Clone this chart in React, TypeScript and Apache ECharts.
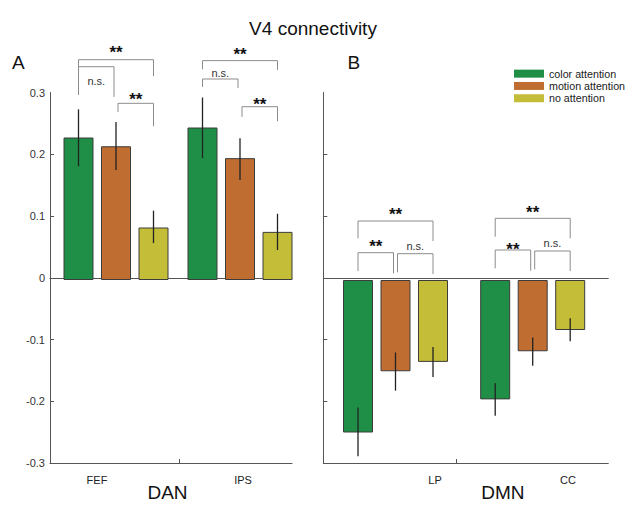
import React, { useEffect, useRef } from "react";
import * as echarts from "echarts";

const FONT = "'Liberation Sans', Arial, Helvetica, sans-serif";

const conditions = ["color attention", "motion attention", "no attention"];
const colors = ["#1f8f47", "#bf6d31", "#c4bd37"];

const danRegions = ["FEF", "IPS"];
const dmnRegions = ["LP", "CC"];
const networkNames = ["DAN", "DMN"];
const yTickValues = [-0.2, -0.1, 0, 0.1, 0.2];

// per condition, per region
const danMeans = [[0.228, 0.244], [0.214, 0.195], [0.084, 0.077]];
const danLow = [[0.182, 0.195], [0.176, 0.160], [0.059, 0.048]];
const danHigh = [[0.273, 0.292], [0.253, 0.227], [0.111, 0.106]];

const dmnMeans = [[-0.244, -0.191], [-0.146, -0.114], [-0.131, -0.080]];
const dmnLow = [[-0.282, -0.217], [-0.177, -0.137], [-0.155, -0.098]];
const dmnHigh = [[-0.204, -0.165], [-0.116, -0.092], [-0.107, -0.061]];

// [region, fromCond, toCond, bracketTop, leftLegEnd, rightLegEnd, label, labelY]
const danBrackets: any[] = [
  [0, 0, 2, 0.3525, 0.317, 0.326, "**", 0.3707],
  [0, 0, 1, 0.3413, 0.296, 0.293, "n.s.", 0.3173],
  [0, 1, 2, 0.2827, 0.269, 0.246, "**", 0.296],
  [1, 0, 2, 0.351, 0.337, 0.336, "**", 0.368],
  [1, 0, 1, 0.3216, 0.309, 0.307, "n.s.", 0.3296],
  [1, 1, 2, 0.2773, 0.261, 0.254, "**", 0.288],
];
const dmnBrackets: any[] = [
  [0, 0, 2, 0.0944, 0.0667, 0.0624, "**", 0.1109],
  [0, 0, 1, 0.0437, 0.0144, 0.0107, "**", 0.0603],
  [0, 1, 2, 0.0421, 0.0123, 0.0096, "n.s.", 0.0533],
  [1, 0, 2, 0.0987, 0.0693, 0.0667, "**", 0.1147],
  [1, 0, 1, 0.048, 0.0187, 0.0149, "**", 0.056],
  [1, 1, 2, 0.0464, 0.0171, 0.0144, "n.s.", 0.0581],
];

const BAR_STEP = 37.5;
const AXIS_COLOR = "#555";

function errorData(low: number[][], high: number[][]) {
  const out: number[][] = [];
  low.forEach((row, c) => row.forEach((lo, r) => out.push([r, c, lo, high[c][r]])));
  return out;
}

function bracketGraphics(chart: any, brackets: any[], gridIndex: number) {
  const els: any[] = [];
  brackets.forEach(([cat, from, to, top, endL, endR, label, labelY]) => {
    const f = { gridIndex };
    const c = chart.convertToPixel(f, [cat, top]);
    const pl = chart.convertToPixel(f, [cat, endL]);
    const pr = chart.convertToPixel(f, [cat, endR]);
    const pLab = chart.convertToPixel(f, [cat, labelY]);
    const x0 = c[0] + (from - 1) * BAR_STEP + (from === 1 ? 2 : 0);
    const x1 = c[0] + (to - 1) * BAR_STEP - (to === 1 ? 2 : 0);
    els.push({
      type: "polyline",
      silent: true,
      shape: { points: [[x0, pl[1]], [x0, c[1]], [x1, c[1]], [x1, pr[1]]] },
      style: { stroke: "#8c8c8c", lineWidth: 1, fill: null },
    });
    const star = label === "**";
    els.push({
      type: "text",
      silent: true,
      x: (x0 + x1) / 2,
      y: pLab[1] + (star ? 4 : -1),
      style: {
        text: label,
        fontSize: star ? 17 : 11,
        fontWeight: star ? "bold" : "normal",
        fill: star ? "#111" : "#333",
        align: "center",
        verticalAlign: "middle",
        fontFamily: FONT,
      },
    });
  });
  return els;
}

export default function App() {
  const ref = useRef<HTMLDivElement>(null);
  useEffect(() => {
    if (!ref.current) return;
    const chart = echarts.init(ref.current, undefined, { renderer: "svg" });

    const top = 92.5;
    const height = 375;
    const grids = [
      { left: 54, top, width: 248, height },
      { left: 326.9, top, width: 274.4, height },
      { left: 50, top, width: 242, height },
      { left: 323.3, top, width: 285, height },
    ];

    const hiddenY = (g: number) => ({
      type: "value", gridIndex: g, min: -0.3, max: 0.3, interval: 0.1, show: false,
    });
    const visibleY = (g: number, labels: boolean) => ({
      type: "value", gridIndex: g, min: -0.3, max: 0.3, interval: 0.1,
      axisLine: { show: true, onZero: false, lineStyle: { color: AXIS_COLOR, width: 1 } },
      axisTick: { show: true, inside: true, length: 4, customValues: yTickValues, lineStyle: { color: AXIS_COLOR } },
      axisLabel: { show: labels, fontSize: 11, color: "#333", margin: 5, fontFamily: FONT },
      splitLine: { show: false },
    });
    const catAxis = (g: number, names: string[], shifts: number[]) => ({
      type: "category", gridIndex: g, position: "bottom",
      data: names.map((n, i) => ({
        value: n,
        textStyle: { padding: shifts[i] >= 0 ? [0, 0, 0, shifts[i] * 2] : [0, -shifts[i] * 2, 0, 0] },
      })),
      axisLine: { show: false, onZero: false },
      axisTick: { show: false },
      axisLabel: { interval: 0, fontSize: 11, color: "#222", margin: 7, fontFamily: FONT },
    });
    const bottomAxis = (g: number, name: string, tick: number, nameShift: number) => ({
      type: "value", gridIndex: g, min: 0, max: 1, position: "bottom",
      name, nameLocation: "middle", nameGap: 20,
      nameTextStyle: {
        fontSize: 19, color: "#111", fontFamily: FONT,
        padding: nameShift >= 0 ? [0, 0, 0, nameShift * 2] : [0, -nameShift * 2, 0, 0],
      },
      axisLine: { show: true, onZero: false, lineStyle: { color: AXIS_COLOR, width: 1 } },
      axisTick: { show: true, inside: true, length: 4, customValues: [tick], lineStyle: { color: AXIS_COLOR } },
      axisLabel: { show: false },
      splitLine: { show: false },
    });
    const zeroAxis = (g: number) => ({
      type: "value", gridIndex: g, min: 0, max: 1, position: "top",
      axisLine: { show: true, onZero: true, lineStyle: { color: AXIS_COLOR, width: 1 } },
      axisTick: { show: false },
      axisLabel: { show: false },
      splitLine: { show: false },
    });

    const barSeries: any[] = [];
    [danMeans, dmnMeans].forEach((means, g) => {
      means.forEach((vals, c) => {
        barSeries.push({
          type: "bar",
          name: conditions[c],
          xAxisIndex: g,
          yAxisIndex: g,
          barWidth: 30,
          barGap: "25%",
          data: vals,
          itemStyle: { color: colors[c], borderColor: "#3c3c3c", borderWidth: 1 },
        });
      });
    });

    const errSeries = [
      { low: danLow, high: danHigh },
      { low: dmnLow, high: dmnHigh },
    ].map((e, g) => ({
      type: "custom",
      xAxisIndex: g,
      yAxisIndex: g,
      z: 5,
      encode: { x: 0, y: 2 },
      data: errorData(e.low, e.high),
      renderItem: (params: any, api: any) => {
        const cat = api.value(0);
        const cond = api.value(1);
        const lo = api.coord([cat, api.value(2)]);
        const hi = api.coord([cat, api.value(3)]);
        const dx = (cond - 1) * BAR_STEP;
        return {
          type: "line",
          shape: { x1: lo[0] + dx, y1: lo[1], x2: hi[0] + dx, y2: hi[1] },
          style: { stroke: "#222", lineWidth: 1.3 },
        };
      },
    }));

    chart.setOption({
      animation: false,
      backgroundColor: "#fff",
      textStyle: { fontFamily: FONT },
      title: {
        text: "V4 connectivity",
        left: "center",
        top: 14,
        textStyle: { fontSize: 19, fontWeight: "normal", color: "#111", fontFamily: FONT },
      },
      legend: {
        orient: "vertical",
        left: 514,
        top: 67.5,
        padding: 0,
        itemWidth: 30,
        itemHeight: 8,
        itemGap: 0,
        icon: "rect",
        selectedMode: false,
        data: conditions,
        itemStyle: { borderWidth: 0 },
        textStyle: { fontSize: 10.7, lineHeight: 12.3, color: "#222", fontFamily: FONT },
      },
      grid: grids,
      xAxis: [
        catAxis(0, danRegions, [-19, 3]),
        catAxis(1, dmnRegions, [39.5, 35.3]),
        bottomAxis(2, networkNames[0], 0.533, -3.5),
        zeroAxis(2),
        bottomAxis(3, networkNames[1], 0.467, 37),
        zeroAxis(3),
      ],
      yAxis: [hiddenY(0), hiddenY(1), visibleY(2, true), visibleY(3, false)],
      series: [...barSeries, ...errSeries],
    });

    const graphics: any[] = [
      ...bracketGraphics(chart, danBrackets, 0),
      ...bracketGraphics(chart, dmnBrackets, 1),
      {
        type: "text", x: 12, y: 62,
        style: { text: "A", fontSize: 19, fill: "#111", fontFamily: FONT, verticalAlign: "middle" },
      },
      {
        type: "text", x: 347.5, y: 62,
        style: { text: "B", fontSize: 19, fill: "#111", fontFamily: FONT, verticalAlign: "middle" },
      },
    ];
    chart.setOption({ graphic: graphics });

    return () => chart.dispose();
  }, []);

  return (
    <div
      ref={ref}
      style={{ position: "fixed", left: 0, top: 0, width: 626, height: 507, background: "#fff" }}
    />
  );
}
